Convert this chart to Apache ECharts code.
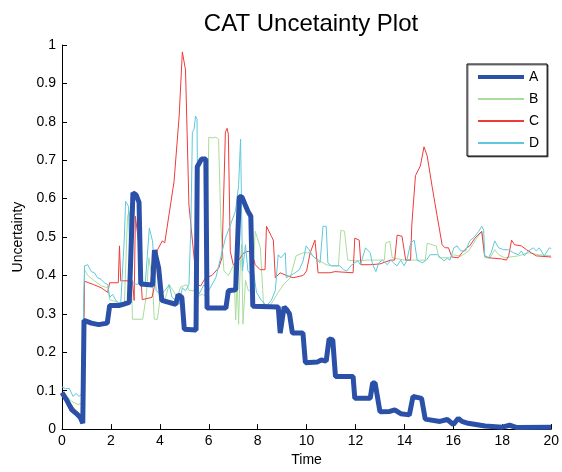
<!DOCTYPE html>
<html>
<head>
<meta charset="utf-8">
<script src="https://cdn.jsdelivr.net/npm/echarts@6/dist/echarts.min.js"></script>
<style>
    html, body { margin: 0; padding: 0; background: #fff; }
    #chart { width: 562px; height: 472px; }
</style>
</head>
<body>
<div id="chart"></div>
<script>
// 图例名称
const seriesNames = ['A', 'B', 'C', 'D'];
const xTicks = [0, 2, 4, 6, 8, 10, 12, 14, 16, 18, 20];
const yTicks = [0, 0.1, 0.2, 0.3, 0.4, 0.5, 0.6, 0.7, 0.8, 0.9, 1];

// [time, uncertainty]
const seriesA = [[0,0.095],[0.2,0.075],[0.4,0.05],[0.6,0.04],[0.75,0.03],[0.85,0.015],[0.9,0.283],[1.2,0.276],[1.5,0.272],[1.85,0.276],[1.95,0.322],[2.35,0.322],[2.5,0.325],[2.75,0.33],[2.82,0.335],[2.9,0.615],[3.03,0.61],[3.15,0.59],[3.22,0.378],[3.7,0.375],[3.78,0.466],[3.95,0.42],[4.08,0.335],[4.65,0.325],[4.75,0.35],[4.9,0.343],[5.0,0.26],[5.48,0.258],[5.53,0.683],[5.7,0.703],[5.88,0.703],[5.93,0.315],[6.7,0.315],[6.8,0.36],[7.1,0.363],[7.25,0.605],[7.35,0.605],[7.6,0.567],[7.72,0.554],[7.8,0.32],[8.84,0.318],[8.92,0.25],[9.0,0.25],[9.08,0.318],[9.2,0.31],[9.3,0.3],[9.42,0.25],[9.85,0.25],[9.95,0.173],[10.45,0.175],[10.6,0.18],[10.8,0.177],[10.92,0.235],[11.07,0.232],[11.18,0.137],[11.9,0.137],[11.97,0.08],[12.6,0.08],[12.7,0.12],[12.8,0.12],[13.0,0.045],[13.4,0.046],[13.6,0.05],[13.85,0.04],[14.2,0.037],[14.35,0.085],[14.7,0.08],[14.85,0.026],[15.45,0.02],[15.75,0.025],[16.0,0.012],[16.2,0.028],[16.35,0.02],[16.6,0.015],[17.3,0.008],[18.0,0.005],[18.3,0.01],[18.6,0.004],[20,0.005]];

const seriesB = [[0,0.093],[0.2,0.085],[0.4,0.072],[0.65,0.064],[0.8,0.067],[0.92,0.415],[1.05,0.4],[1.33,0.386],[1.6,0.373],[1.87,0.368],[1.95,0.337],[2.27,0.33],[2.55,0.325],[2.62,0.45],[2.68,0.554],[2.75,0.567],[2.8,0.52],[2.88,0.286],[3.3,0.286],[3.45,0.35],[3.55,0.446],[3.7,0.386],[3.77,0.286],[3.9,0.286],[4.05,0.36],[4.2,0.335],[4.38,0.376],[4.55,0.36],[4.7,0.343],[4.85,0.37],[5.1,0.376],[5.19,0.361],[5.4,0.36],[5.5,0.343],[5.73,0.351],[5.9,0.345],[6.0,0.76],[6.15,0.758],[6.29,0.76],[6.4,0.755],[6.5,0.523],[6.62,0.412],[6.8,0.4],[7.02,0.428],[7.1,0.284],[7.16,0.39],[7.22,0.273],[7.28,0.412],[7.34,0.48],[7.4,0.273],[7.5,0.387],[7.62,0.36],[7.76,0.36],[7.9,0.515],[7.95,0.518],[8.11,0.472],[8.24,0.322],[8.5,0.322],[8.64,0.335],[8.84,0.356],[9.05,0.376],[9.33,0.394],[9.57,0.451],[9.86,0.459],[10.1,0.459],[10.34,0.446],[10.55,0.438],[10.8,0.428],[11.07,0.425],[11.3,0.425],[11.4,0.518],[11.55,0.515],[11.68,0.44],[12.0,0.438],[12.5,0.44],[13.18,0.44],[13.23,0.484],[13.4,0.489],[13.5,0.446],[14.0,0.44],[14.4,0.44],[14.85,0.44],[14.93,0.484],[15.13,0.48],[15.3,0.477],[15.41,0.446],[15.86,0.446],[16.0,0.454],[16.3,0.45],[16.63,0.464],[16.88,0.49],[17.16,0.515],[17.28,0.446],[17.5,0.446],[17.69,0.467],[17.85,0.454],[18.1,0.446],[18.66,0.451],[19.07,0.459],[19.47,0.454],[20,0.451]];

const seriesC = [[0,0.095],[0.3,0.07],[0.6,0.045],[0.85,0.02],[0.92,0.385],[1.3,0.376],[1.6,0.368],[1.87,0.356],[1.95,0.381],[2.3,0.381],[2.35,0.477],[2.4,0.386],[2.88,0.386],[2.95,0.335],[3.0,0.554],[3.05,0.55],[3.16,0.472],[3.28,0.337],[3.68,0.343],[3.77,0.369],[3.9,0.466],[4.1,0.49],[4.2,0.485],[4.58,0.644],[4.79,0.815],[4.92,0.982],[5.05,0.935],[5.19,0.583],[5.4,0.446],[5.53,0.376],[5.67,0.373],[5.87,0.394],[6.13,0.4],[6.41,0.42],[6.54,0.446],[6.68,0.773],[6.75,0.783],[6.8,0.768],[6.88,0.463],[7.0,0.428],[7.2,0.438],[7.43,0.459],[7.63,0.463],[7.82,0.446],[7.9,0.428],[8.1,0.415],[8.3,0.415],[8.36,0.528],[8.56,0.502],[8.64,0.492],[8.72,0.394],[8.92,0.407],[9.17,0.4],[9.45,0.394],[9.86,0.4],[10.0,0.412],[10.14,0.458],[10.34,0.492],[10.47,0.407],[10.95,0.407],[11.16,0.41],[11.9,0.407],[11.97,0.497],[12.15,0.492],[12.22,0.428],[12.6,0.428],[13.0,0.43],[13.43,0.44],[13.6,0.44],[13.7,0.505],[13.9,0.502],[14.05,0.44],[14.25,0.44],[14.3,0.531],[14.45,0.66],[14.65,0.685],[14.8,0.735],[14.93,0.711],[15.13,0.632],[15.33,0.557],[15.54,0.48],[15.66,0.472],[15.8,0.472],[15.94,0.448],[16.2,0.446],[16.35,0.459],[16.55,0.472],[16.67,0.477],[16.88,0.497],[17.16,0.515],[17.24,0.518],[17.28,0.451],[17.44,0.446],[17.97,0.443],[18.17,0.44],[18.26,0.451],[18.38,0.492],[18.5,0.48],[18.78,0.477],[18.99,0.467],[19.19,0.459],[19.39,0.451],[20,0.448]];

const seriesD = [[0,0.11],[0.15,0.105],[0.3,0.106],[0.45,0.085],[0.58,0.093],[0.7,0.085],[0.82,0.093],[0.92,0.425],[1.05,0.428],[1.2,0.41],[1.33,0.407],[1.45,0.394],[1.6,0.39],[1.73,0.381],[1.87,0.376],[1.95,0.343],[2.07,0.351],[2.2,0.335],[2.4,0.325],[2.55,0.5],[2.6,0.593],[2.67,0.596],[2.72,0.58],[2.8,0.386],[2.95,0.38],[3.08,0.376],[3.25,0.39],[3.4,0.375],[3.57,0.523],[3.7,0.49],[3.85,0.36],[4.05,0.351],[4.2,0.36],[4.38,0.376],[4.5,0.343],[4.65,0.335],[4.79,0.325],[4.92,0.368],[5.05,0.36],[5.19,0.376],[5.27,0.531],[5.33,0.773],[5.4,0.781],[5.46,0.815],[5.52,0.807],[5.57,0.368],[5.6,0.351],[5.8,0.376],[6.0,0.361],[6.29,0.394],[6.5,0.45],[6.68,0.497],[6.88,0.531],[7.09,0.567],[7.22,0.634],[7.3,0.755],[7.36,0.5],[7.38,0.412],[7.5,0.48],[7.6,0.412],[7.75,0.4],[7.83,0.412],[7.95,0.356],[8.15,0.335],[8.36,0.322],[8.56,0.335],[8.72,0.361],[8.84,0.454],[8.95,0.446],[9.13,0.459],[9.17,0.394],[9.35,0.4],[9.53,0.407],[9.7,0.415],[9.86,0.438],[9.98,0.477],[10.1,0.467],[10.25,0.451],[10.55,0.433],[10.67,0.528],[10.8,0.528],[10.87,0.433],[11.0,0.425],[11.36,0.425],[11.5,0.415],[11.65,0.412],[11.8,0.425],[11.97,0.433],[12.09,0.438],[12.2,0.428],[12.41,0.472],[12.6,0.459],[12.7,0.428],[12.83,0.41],[12.95,0.433],[13.1,0.44],[13.3,0.428],[13.45,0.44],[13.55,0.433],[13.7,0.425],[13.85,0.44],[13.99,0.425],[14.1,0.44],[14.25,0.484],[14.4,0.492],[14.52,0.44],[14.73,0.433],[14.9,0.44],[15.05,0.454],[15.35,0.454],[15.5,0.445],[15.62,0.438],[15.75,0.445],[15.86,0.44],[16.02,0.472],[16.15,0.477],[16.3,0.464],[16.5,0.464],[16.67,0.49],[16.85,0.5],[17.04,0.515],[17.16,0.528],[17.24,0.518],[17.28,0.451],[17.44,0.446],[17.55,0.46],[17.69,0.49],[17.85,0.472],[18.05,0.467],[18.26,0.467],[18.46,0.459],[18.66,0.454],[18.78,0.464],[18.9,0.451],[19.07,0.464],[19.27,0.472],[19.39,0.464],[19.51,0.472],[19.72,0.451],[19.92,0.472],[20,0.47]];

const font = '"Liberation Sans", Arial, Helvetica, sans-serif';

function makeLine(name, data, color, width, z) {
    return {
        name: name,
        type: 'line',
        data: data,
        symbol: 'none',
        z: z,
        lineStyle: { color: color, width: width },
        itemStyle: { color: color },
        emphasis: { disabled: true },
        animation: false
    };
}

// 图例: A 线粗一些
let legendData = seriesNames.map(function (n) {
    return n === 'A' ? { name: n, lineStyle: { width: 4 } } : { name: n };
});

let option = {
    animation: false,
    textStyle: { fontFamily: font },
    title: {
        text: 'CAT Uncetainty Plot',
        left: 306,
        textAlign: 'center',
        top: 7,
        textStyle: { fontSize: 24, fontWeight: 'normal', color: '#000', fontFamily: font }
    },
    legend: {
        left: 467,
        top: 64,
        orient: 'vertical',
        data: legendData,
        itemWidth: 46,
        itemHeight: 14,
        itemGap: 8,
        padding: [6, 8, 6, 9],
        backgroundColor: '#fff',
        borderColor: '#000',
        borderWidth: 1,
        shadowColor: 'rgba(0,0,0,0.5)',
        shadowOffsetX: 1,
        shadowOffsetY: 1,
        itemStyle: { opacity: 0 },
        textStyle: { fontSize: 14, color: '#000', fontFamily: font }
    },
    grid: { left: 62, right: 7, top: 45, bottom: 38, containLabel: false },
    xAxis: {
        type: 'value',
        min: xTicks[0],
        max: xTicks[xTicks.length - 1],
        interval: 2,
        name: 'Time',
        nameLocation: 'middle',
        nameGap: 23,
        nameTextStyle: { fontSize: 14, color: '#000' },
        axisLine: { lineStyle: { color: '#000', width: 1 } },
        axisTick: { inside: true, length: 5, lineStyle: { color: '#000' } },
        axisLabel: { fontSize: 14, color: '#000', margin: 5 },
        splitLine: { show: false }
    },
    yAxis: {
        type: 'value',
        min: yTicks[0],
        max: yTicks[yTicks.length - 1],
        interval: 0.1,
        name: 'Uncertainty',
        nameLocation: 'middle',
        nameGap: 37,
        nameTextStyle: { fontSize: 14, color: '#000' },
        axisLine: { show: true, lineStyle: { color: '#000', width: 1 } },
        axisTick: { show: true, inside: true, length: 5, lineStyle: { color: '#000' } },
        axisLabel: {
            fontSize: 14, color: '#000', margin: 6,
            formatter: function (v) { return String(Math.round(v * 10) / 10); }
        },
        splitLine: { show: false }
    },
    series: [
        makeLine('B', seriesB, '#a9dc9c', 1, 2),
        makeLine('C', seriesC, '#f03a3a', 1, 3),
        makeLine('D', seriesD, '#5ec8dc', 1, 4),
        makeLine('A', seriesA, '#2b50a8', 5, 5)
    ]
};

echarts.init(document.getElementById('chart')).setOption(option);
</script>
</body>
</html>
